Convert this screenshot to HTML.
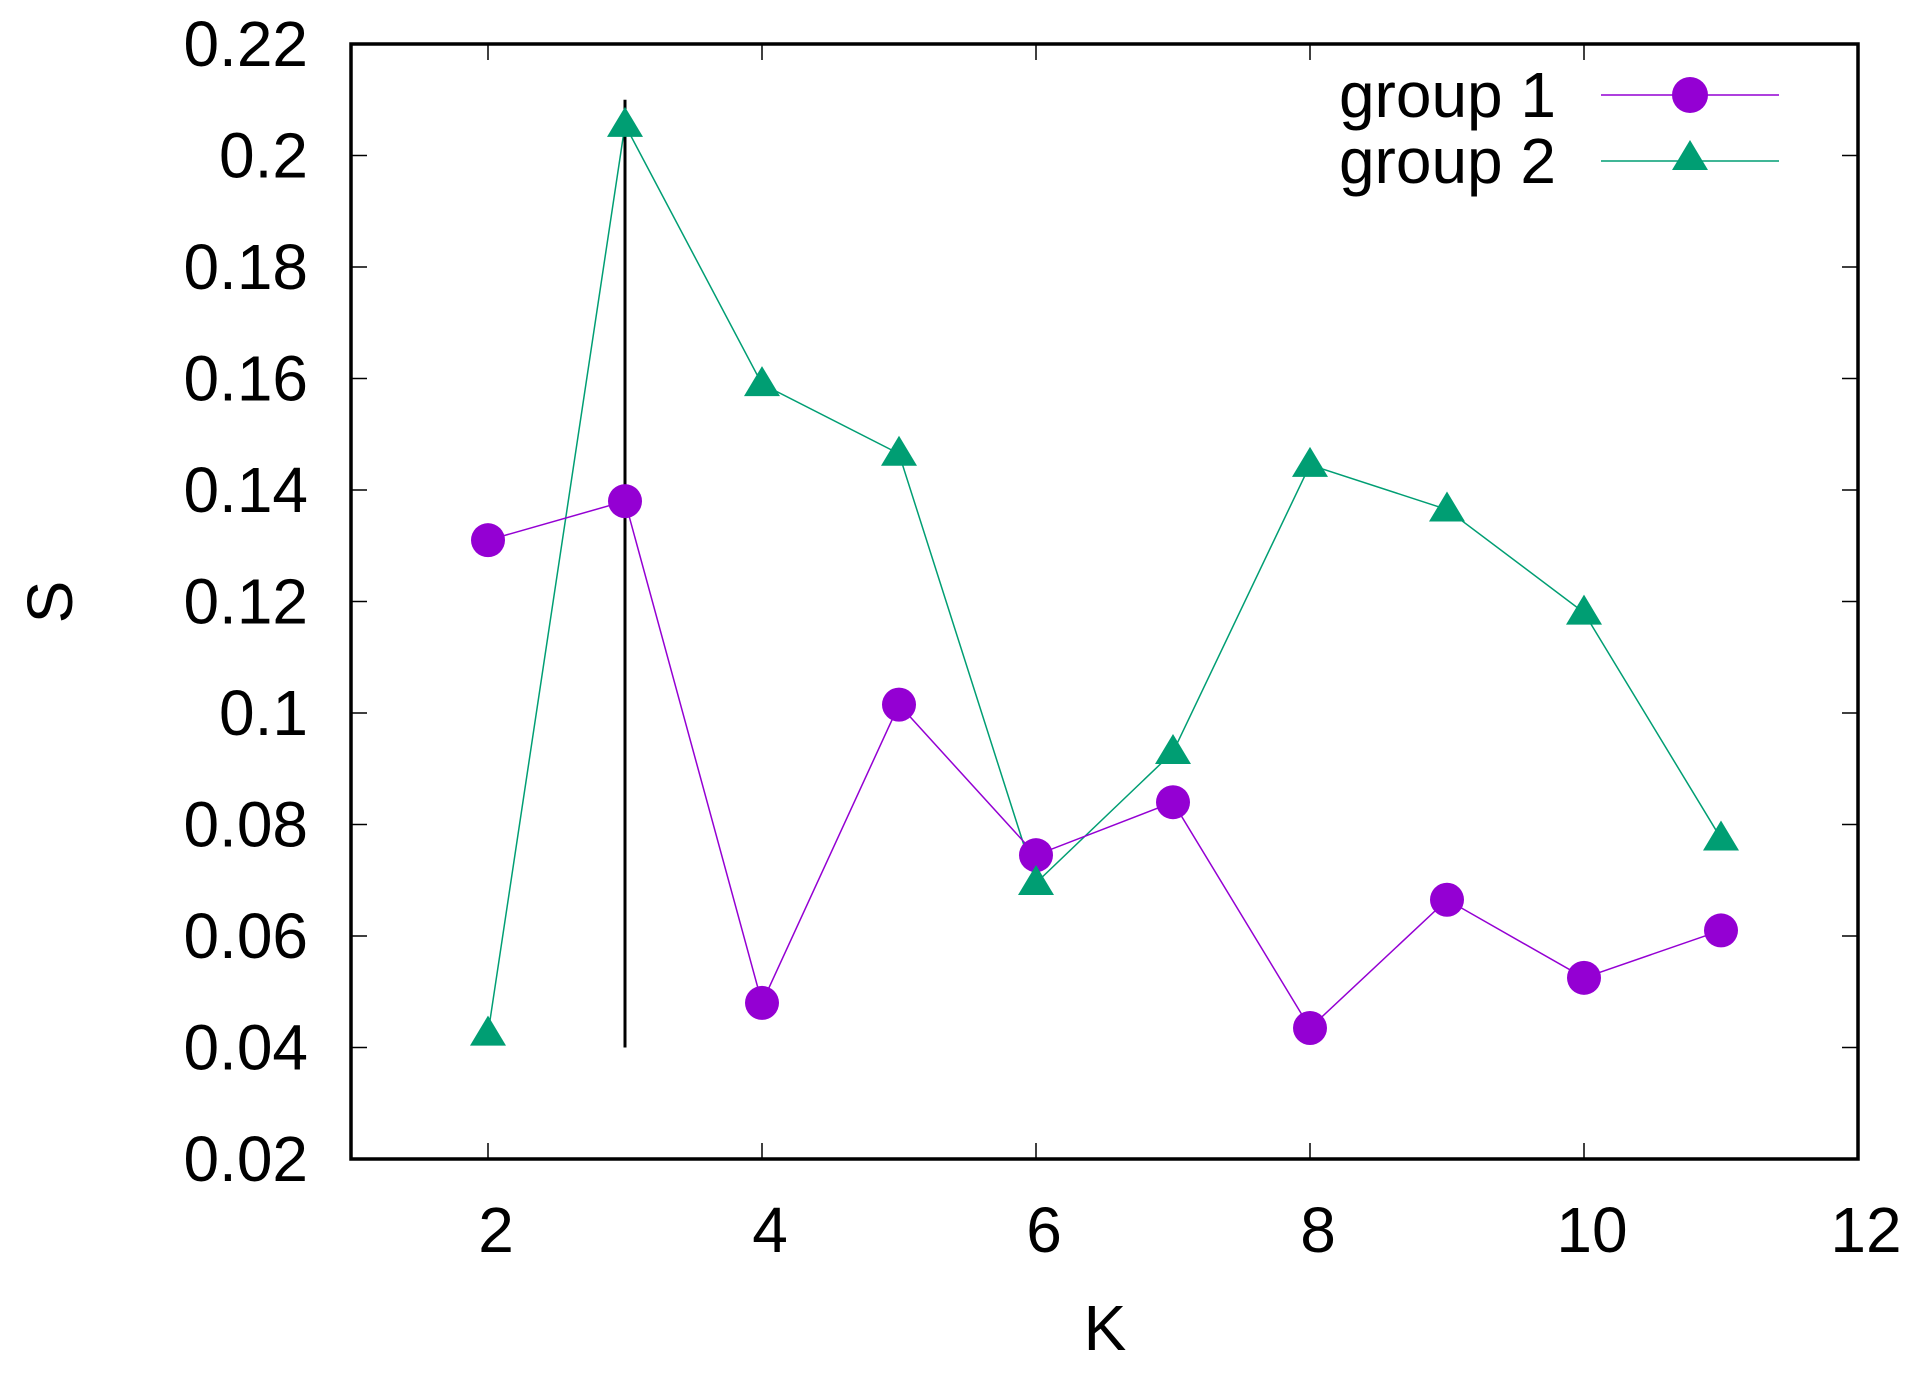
<!DOCTYPE html>
<html><head><style>body{margin:0;background:#fff}svg{display:block}text{font-family:"Liberation Sans",sans-serif;fill:#000}</style></head>
<body>
<svg id="s" width="1931" height="1391" viewBox="0 0 1931 1391" xmlns="http://www.w3.org/2000/svg"></svg>
<script>
const s=document.getElementById('s');const NS='http://www.w3.org/2000/svg';
function el(t,a,txt){const e=document.createElementNS(NS,t);for(const k in a)e.setAttribute(k,a[k]);if(txt!==undefined)e.textContent=txt;s.appendChild(e);return e;}
const L=351,R=1858,T=44,B=1159;
const X=v=>L+(v-1)*(R-L)/11, Y=v=>B-(v-0.02)*(B-T)/0.2;
// ticks
for(let i=0;i<=10;i++){const v=0.02+i*0.02,y=Y(v);
 el('line',{x1:L,y1:y,x2:L+16,y2:y,stroke:'#000','stroke-width':1.5});
 el('line',{x1:R,y1:y,x2:R-16,y2:y,stroke:'#000','stroke-width':1.5});
 el('text',{x:308,y:y+22,'text-anchor':'end','font-size':64},(Math.round(v*100)/100).toString());}
for(let k=2;k<=12;k+=2){const x=X(k);
 el('line',{x1:x,y1:B,x2:x,y2:B-16,stroke:'#000','stroke-width':1.5});
 el('line',{x1:x,y1:T,x2:x,y2:T+16,stroke:'#000','stroke-width':1.5});
 el('text',{x:x+8,y:1252,'text-anchor':'middle','font-size':64},k);}
el('text',{x:1105,y:1350,'text-anchor':'middle','font-size':64},'K');
el('text',{x:0,y:0,'text-anchor':'middle','font-size':64,transform:'translate(72,602) rotate(-90)'},'S');
const g1=[.131,.138,.048,.1015,.0745,.084,.0435,.0665,.0525,.061];
const g2=[.0425,.2055,.159,.1465,.0695,.093,.1445,.1365,.118,.0775];
const c1='#9400d3',c2='#009e73';
el('polyline',{points:g2.map((v,i)=>X(i+2)+','+Y(v)).join(' '),fill:'none',stroke:c2,'stroke-width':1.5});
el('polyline',{points:g1.map((v,i)=>X(i+2)+','+Y(v)).join(' '),fill:'none',stroke:c1,'stroke-width':1.5});
el('line',{x1:X(3),y1:Y(0.04),x2:X(3),y2:Y(0.21),stroke:'#000','stroke-width':3});
function tri(x,y){el('polygon',{points:`${x-18},${y+12} ${x+18},${y+12} ${x},${y-18}`,fill:c2});}
g1.forEach((v,i)=>el('circle',{cx:X(i+2),cy:Y(v),r:17,fill:c1}));
g2.forEach((v,i)=>tri(X(i+2),Y(v)));
el('rect',{x:L,y:T,width:R-L,height:B-T,fill:'none',stroke:'#000','stroke-width':3.5});
// legend
el('text',{x:1556,y:117,'text-anchor':'end','font-size':64},'group 1');
el('text',{x:1556,y:183,'text-anchor':'end','font-size':64},'group 2');
el('line',{x1:1601,y1:95,x2:1779,y2:95,stroke:c1,'stroke-width':1.5});
el('circle',{cx:1690,cy:95,r:18,fill:c1});
el('line',{x1:1601,y1:161,x2:1779,y2:161,stroke:c2,'stroke-width':1.5});
tri(1690,158);
</script>
</body></html>
